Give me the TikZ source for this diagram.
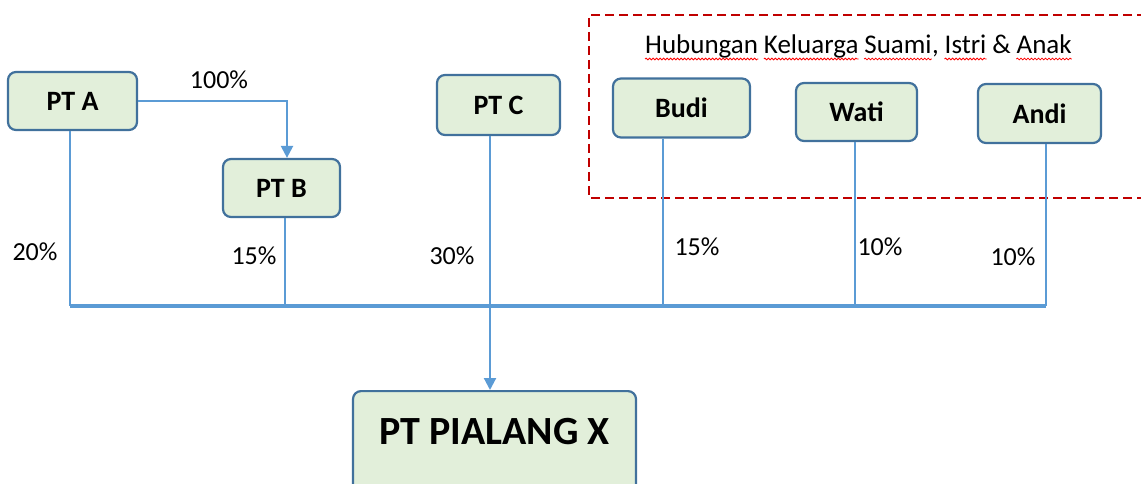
\documentclass[tikz,border=0pt]{standalone}
\usepackage{fontspec}
\setmainfont{Carlito}
\usepackage{xcolor}
\usepackage{tikz}
\usetikzlibrary{arrows.meta}
\usetikzlibrary{decorations.pathmorphing}

\definecolor{boxfill}{RGB}{226,239,218}
\definecolor{boxedge}{RGB}{65,113,156}
\definecolor{linkblue}{RGB}{91,155,213}
\definecolor{dashred}{RGB}{192,0,0}

\begin{document}
\begin{tikzpicture}[x=1pt,y=-1pt,
    box/.style={draw=boxedge, fill=boxfill, line width=2.2pt, rounded corners=8pt,
      font=\fontsize{28}{30}\selectfont\bfseries, inner sep=0pt},
    link/.style={draw=linkblue, line width=2.2pt},
    pct/.style={font=\fontsize{26}{28}\selectfont},
    word/.style={font=\fontsize{27}{29}\selectfont, inner sep=0pt, anchor=base west},
    spellwave/.style={draw=red, line width=0.8pt, decorate,
      decoration={snake, amplitude=0.9pt, segment length=3.5pt}}]
  \useasboundingbox (0,0) rectangle (1141,484);
  \clip (0,0) rectangle (1141,484);

  % family frame
  \draw[dashred, line width=2.5pt, dash pattern=on 9pt off 5pt]
    (1160,15) -- (589,15) -- (589,198) -- (1160,198);
  \node[word] (w1) at (645,54) {Hubungan};
  \node[word] (w2) at ([xshift=5.5pt]w1.base east) {Keluarga};
  \node[word] (w3) at ([xshift=5.5pt]w2.base east) {Suami};
  \node[word] (comma) at (w3.base east) {,};
  \node[word] (w4) at ([xshift=5.5pt]comma.base east) {Istri};
  \node[word] (amp) at ([xshift=5.5pt]w4.base east) {\&};
  \node[word] (w5) at ([xshift=5.5pt]amp.base east) {Anak};
  \foreach \w in {w1,w2,w3,w4,w5}
    \draw[spellwave] ([yshift=-5pt]\w.base west) -- ([yshift=-5pt]\w.base east);

  % shareholders
  \node[box, minimum width=129pt, minimum height=58pt] (ptA) at (72.5,101) {PT A};
  \node[box, minimum width=117pt, minimum height=58pt] (ptB) at (281.5,188) {PT B};
  \node[box, minimum width=123pt, minimum height=60pt] (ptC) at (498.5,105) {PT C};
  \node[box, minimum width=137pt, minimum height=59pt] (budi) at (681.5,108) {Budi};
  \node[box, minimum width=121pt, minimum height=58pt] (wati) at (856.5,112) {Wati};
  \node[box, minimum width=123pt, minimum height=59pt] (andi) at (1039.5,113.5) {Andi};

  % company
  \node[box, anchor=north, minimum width=283pt, font=\fontsize{40}{44}\selectfont\bfseries,
    text height=26pt, text depth=60pt, inner ysep=27pt] (pialang) at (494.5,390) {PT PIALANG X};

  % drop points and bus
  \coordinate (bus) at (0,306);
  \coordinate (dA) at ([xshift=-2.5pt]ptA.south);
  \coordinate (dB) at ([xshift=3.5pt]ptB.south);
  \coordinate (dC) at ([xshift=-8.5pt]ptC.south);
  \coordinate (dBudi) at ([xshift=-18.5pt]budi.south);
  \coordinate (dWati) at ([xshift=-1.5pt]wati.south);
  \coordinate (dAndi) at ([xshift=6.5pt]andi.south);

  \foreach \d in {dA,dB,dBudi,dWati,dAndi}
    \draw[link] (\d) -- (\d |- bus);
  \draw[link, line width=3.2pt] (dA |- bus) -- (dAndi |- bus);
  \draw[link, -{Triangle[length=12pt,width=12pt]}] (dC) -- (dC |- pialang.north);
  \draw[link, -{Triangle[length=12pt,width=12pt]}] (ptA.east) -| ([xshift=5.5pt]ptB.north);

  % shares
  \node[pct] (sAB) at (219,80) {100\%};
  \node[pct] (sA) at (35,252) {20\%};
  \node[pct] (sB) at (254,256) {15\%};
  \node[pct] (sC) at (452,256) {30\%};
  \node[pct] (sBudi) at (697,247) {15\%};
  \node[pct] (sWati) at (880,247) {10\%};
  \node[pct] (sAndi) at (1013,257) {10\%};
\end{tikzpicture}
\end{document}
